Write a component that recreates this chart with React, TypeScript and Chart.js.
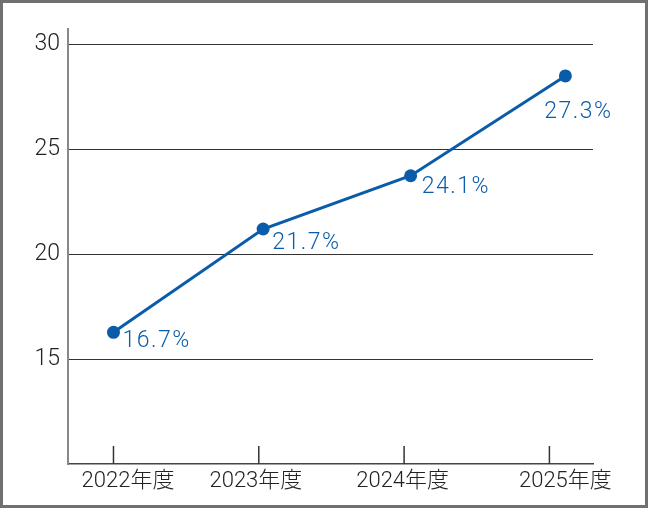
import React, { useEffect, useRef } from "react";
import { Chart, registerables } from "chart.js";

Chart.register(...registerables);

const categories = ["2022年度", "2023年度", "2024年度", "2025年度"];
const categoryTickPositions = [0, 1, 2, 3];
const categoryLabelPositions = [0.1, 0.98, 1.99, 3.11];
const pointX = [0, 1.03, 2.045, 3.11];
const pointY = [16.28, 21.21, 23.75, 28.51];
const valueLabels = ["16.7%", "21.7%", "24.1%", "27.3%"];
const yTicks = [15, 20, 25, 30];

const FONT = "Roboto, 'Noto Sans CJK JP', sans-serif";
const BLUE = "#0a5cab";

const decorPlugin = {
  id: "decor",
  afterDatasetsDraw(chart: any, _args: any, opts: any) {
    const ctx = chart.ctx;
    const meta = chart.getDatasetMeta(0);
    ctx.save();
    ctx.fillStyle = BLUE;
    ctx.font = `300 23px ${FONT}`;
    (ctx as any).letterSpacing = "1.5px";
    ctx.textBaseline = "middle";
    meta.data.forEach((pt: any, i: number) => {
      const o = opts.offsets[i];
      ctx.textAlign = o.align;
      ctx.fillText(valueLabels[i], pt.x + o.dx, pt.y + o.dy);
    });
    ctx.restore();
  },
  afterDraw(chart: any) {
    const ctx = chart.ctx;
    const xs = chart.scales.x;
    const bottom = chart.chartArea.bottom;
    ctx.save();
    ctx.strokeStyle = "#333";
    ctx.lineWidth = 1.5;
    categoryTickPositions.forEach((v) => {
      const px = xs.getPixelForValue(v);
      ctx.beginPath();
      ctx.moveTo(px, bottom - 18);
      ctx.lineTo(px, bottom);
      ctx.stroke();
    });
    ctx.restore();
  },
};

export default function App() {
  const ref = useRef<HTMLCanvasElement>(null);
  useEffect(() => {
    document.body.style.margin = "0";
    const chart = new Chart(ref.current!, {
      type: "line",
      data: {
        datasets: [
          {
            data: pointX.map((x, i) => ({ x, y: pointY[i] })),
            borderColor: BLUE,
            backgroundColor: BLUE,
            borderWidth: 3,
            pointRadius: 6.5,
            pointBackgroundColor: BLUE,
            pointBorderWidth: 0,
            tension: 0,
          },
        ],
      },
      options: {
        responsive: false,
        animation: false,
        devicePixelRatio: 1,
        layout: { padding: { top: 29, right: 55, left: 0, bottom: 0 } },
        plugins: {
          legend: { display: false },
          tooltip: { enabled: false },
          decor: {
            offsets: [
              { dx: 9, dy: 9, align: "left" },
              { dx: 9, dy: 14, align: "left" },
              { dx: 11, dy: 12, align: "left" },
              { dx: 13, dy: 36, align: "center" },
            ],
          },
        } as any,
        scales: {
          x: {
            type: "linear",
            min: -0.313,
            max: 3.3,
            grid: { display: false, drawTicks: false },
            border: { display: true, color: "#444", width: 1.5 },
            afterBuildTicks: (scale: any) => {
              scale.ticks = categoryLabelPositions.map((v) => ({ value: v }));
            },
            afterFit: (scale: any) => {
              scale.height = 44;
            },
            ticks: {
              autoSkip: false,
              maxRotation: 0,
              padding: 4,
              color: "#222",
              font: { family: FONT, size: 22, weight: "300" },
              callback: (_v: any, i: number) => categories[i],
            },
          },
          y: {
            type: "linear",
            min: 10,
            max: 30.75,
            grid: { color: "#333", lineWidth: 1, drawTicks: false },
            border: { display: true, color: "#888", width: 2 },
            afterBuildTicks: (scale: any) => {
              scale.ticks = yTicks.map((v) => ({ value: v }));
            },
            afterFit: (scale: any) => {
              scale.width = 68;
            },
            ticks: {
              padding: 8,
              color: "#222",
              font: { family: FONT, size: 23, weight: "300" },
            },
          },
        },
      },
      plugins: [decorPlugin],
    } as any);
    return () => chart.destroy();
  }, []);
  return (
    <div style={{ position: "fixed", left: 0, top: 0, width: 648, height: 508, background: "#fff" }}>
      <canvas ref={ref} width={648} height={508} style={{ position: "absolute", left: 0, top: 0 }} />
      <div
        style={{
          position: "absolute",
          left: 0,
          top: 0,
          width: 648,
          height: 508,
          boxSizing: "border-box",
          border: "3px solid #707070",
          pointerEvents: "none",
        }}
      />
    </div>
  );
}
